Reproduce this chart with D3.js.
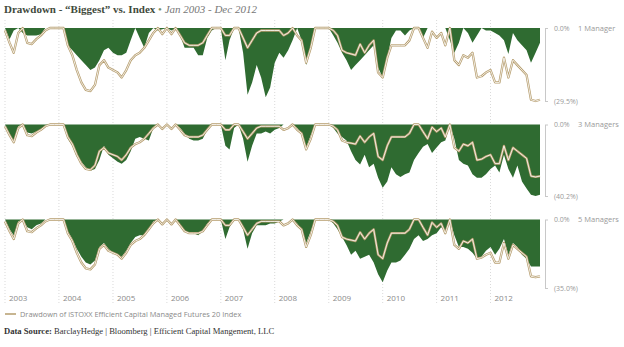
<!DOCTYPE html>
<meta charset="utf-8">
<style>
body { margin: 0; background: #fff; }
.tick line, .domain { stroke: #c8c8c8; }
.tick text { fill: #9a9a9a; font-family: "Open Sans", sans-serif; font-size: 7px; }
</style>
<body>
<script src="https://cdnjs.cloudflare.com/ajax/libs/d3/7.8.5/d3.min.js"></script>
<script>

// drawdowns in %, monthly Jan 2003 - Dec 2012
var indexDD = [
  -1, -6, -10, -2, 0, -6, -6.5, -4.5, -3, -1, 0, 0,
  0, 0, -7, -11, -17, -22, -25, -25.5, -23, -15, -13, -16,
  -17, -18, -20, -17, -13, -11, -10, -8, -5, -2, 0, -2.5,
  0, -2.5, 0, -3, -6, -7, -7, -7, -6, -3, 0, 0,
  0, -3, -3, 0, 0, -4, -8, -5, -2, -1, -1, -1,
  -1, -1, -3, -2, 0, -3, -5, -14, -8, 0, 0, 0,
  0, -1, -3, -9, -10, -10.5, -11, -6.5, -10, -7, -5, -18,
  -20, -12, -7, -7, -7, -7, -5, 0, 0, -4, -8, -1.5,
  -4, -2, -7, 0, -13, -15, -11, -12, -10, -20, -19.5, -18,
  -17, -22, -22, -12, -20, -13, -15, -17, -19, -29, -29.5, -29
];
var mgr1 = [
  0, -4.5, -1, 0, -2, -3, -3, -3, -2.5, 0, 0, 0,
  0, 0, -7, -9, -11, -13, -15, -17, -16, -13, -9, -8,
  -10, -11, -11, -10, -5, 0, -4, -8, -2, 0, -1, -0.5,
  0, -1, 0, -3, -8, -8, -8, -11, -11, -4, -1, 0,
  0, -13, -5, 0, 0, -10, -27, -22, -15, -20, -28, -24,
  -14, -10, -12, -9, -5, 0, -5, -15, -8, 0, 0, 0,
  0, -3, -6, -10, -13, -17, -15, -13, -11, -9, -7, -16,
  -20, -12, -4, -1, -1, -3, -1, 0, 0, -4, 0, 0,
  0, 0, 0, -5, -10, -6, 0, -2, -6, -3, 0, -1,
  -1, -2, -3, -5, -10.5, -2, -5, -7, -9, -14, -10, -6
];
var mgr3 = [
  0, -6, -9, -1, 0, -4.5, -5, -4, -3, -1, 0, 0,
  0, 0, -8, -12, -18, -21, -24, -26, -25, -20, -12, -17,
  -19, -21, -22, -20, -15, -8, -7, -8, -9, -2, 0, 0,
  0, 0, 0, -2, -5, -8, -9, -9, -8, -3, 0, 0,
  0, -12, -14, -2, 0, -8, -21, -12, -5, -5, -4, -5,
  -3, -2, 0, 0, 0, -2, -5, -13, -6, 0, 0, 0,
  0, -2, -5, -7, -9, -15, -20, -22.5, -17, -24, -22, -30,
  -35.5, -32, -24, -28, -29.5, -28, -27, -20, -16, -12.5, -11, -16,
  -13, -10, -9, 0, -8, -20, -22, -23, -28, -30, -30, -28,
  -25, -23, -27, -17, -25, -30, -23, -32, -36, -39.5, -40.2, -39.5
];
var mgr5 = [
  0, -5, -8, -1, 0, -4, -5, -3, -2, 0, 0, 0,
  0, 0, -6, -10, -15, -19, -22, -23, -21, -14, -12, -15,
  -17, -18, -19, -16, -12, -9, -8, -8, -5, -1, 0, 0,
  0, 0, 0, -3, -6, -7, -7, -8, -6, -2, 0, 0,
  0, -10, -4, 0, 0, -5, -15, -7, -3, -3, -3, -2,
  -2, -1, 0, 0, 0, -2, -5, -12, -6, 0, 0, 0,
  0, -2, -5, -9, -13, -18, -16, -20, -19, -18, -22, -28,
  -32, -26, -22, -22, -21, -18, -15, -10, -8, -11, -10, -8,
  -7, -4, -6, 0, -8, -14, -14, -15, -17, -20, -19, -16,
  -14, -18, -15, -10, -18, -12, -14, -18, -20, -24, -24, -24
];

var panelNames = ["1 Manager", "3 Managers", "5 Managers"];
var panelMins = [29.5, 40.2, 35.0];
var years = ["2003", "2004", "2005", "2006", "2007", "2008", "2009", "2010", "2011", "2012"];

var w = 624, h = 347;
var green = "#2f6b31", tan = "#b59c6c";
var panelTop = [28, 124.5, 219.5];
var panelBottom = [101, 196, 288];

var months = d3.range(indexDD.length).map(function(i) { return new Date(2003, i, 1); });

var svg = d3.select("body").append("svg")
  .attr("width", w)
  .attr("height", h);

var x = d3.scaleTime()
  .domain([months[0], months[months.length - 1]])
  .range([5, 540]);

// title
var title = svg.append("text")
  .attr("x", 4)
  .attr("y", 13)
  .style("font-family", "'Liberation Serif', serif")
  .style("font-size", "11px");
title.append("tspan").text("Drawdown - \u201cBiggest\u201d vs. Index").style("font-weight", "bold").attr("fill", "#3f4a3c");
title.append("tspan").text(" \u2022 ").attr("fill", "#7a8f6a");
title.append("tspan").text("Jan 2003 - Dec 2012").style("font-style", "italic").attr("fill", "#777");

// year gridlines
var yearDates = years.map(function(y) { return new Date(+y, 0, 1); });
svg.selectAll(".grid")
  .data(yearDates)
  .enter()
  .append("line")
  .attr("x1", function(d) { return x(d); })
  .attr("x2", function(d) { return x(d); })
  .attr("y1", 20)
  .attr("y2", 305)
  .attr("stroke", "#cfcfcf")
  .attr("stroke-width", 0.8)
  .attr("stroke-dasharray", "1,2");

svg.selectAll(".year")
  .data(years)
  .enter()
  .append("text")
  .attr("x", function(d, i) { return x(yearDates[i]) + 4; })
  .attr("y", 301)
  .attr("fill", "#8a8a8a")
  .style("font-family", "'Open Sans', sans-serif")
  .style("font-size", "8px")
  .text(function(d) { return d; });

var series = [mgr1, mgr3, mgr5];

series.forEach(function(vals, p) {
  var y = d3.scaleLinear()
    .domain([-panelMins[p], 0])
    .range([panelBottom[p], panelTop[p]]);

  var area = d3.area()
    .x(function(d, i) { return x(months[i]); })
    .y0(y(0))
    .y1(function(d) { return y(d); });

  var line = d3.line()
    .x(function(d, i) { return x(months[i]); })
    .y(function(d) { return y(d); });

  svg.append("path")
    .datum(vals)
    .attr("d", area)
    .attr("fill", green);

  svg.append("path")
    .datum(indexDD)
    .attr("d", line)
    .attr("fill", "none")
    .attr("stroke", tan)
    .attr("stroke-width", 2.3)
    .attr("stroke-linejoin", "round");

  svg.append("path")
    .datum(indexDD)
    .attr("d", line)
    .attr("fill", "none")
    .attr("stroke", "#fff")
    .attr("stroke-width", 0.8)
    .attr("stroke-linejoin", "round");

  var axis = d3.axisRight(y)
    .tickValues([0, -panelMins[p]])
    .tickSize(3)
    .tickSizeOuter(0)
    .tickPadding(6)
    .tickFormat(function(v) { return v === 0 ? "0.0%" : "(" + panelMins[p].toFixed(1) + "%)"; });

  svg.append("g")
    .attr("transform", "translate(545,0)")
    .call(axis);

  svg.append("text")
    .attr("x", 578)
    .attr("y", y(0) + 2.5)
    .attr("fill", "#9a9a9a")
    .style("font-family", "'Open Sans', sans-serif")
    .style("font-size", "7.5px")
    .text(panelNames[p]);
});

// legend
svg.append("line")
  .attr("x1", 5).attr("x2", 16)
  .attr("y1", 314).attr("y2", 314)
  .attr("stroke", tan)
  .attr("stroke-width", 1.5);

svg.append("text")
  .attr("x", 20)
  .attr("y", 317)
  .attr("fill", "#8a8a8a")
  .style("font-family", "'Open Sans', sans-serif")
  .style("font-size", "7.4px")
  .text("Drawdown of iSTOXX Efficient Capital Managed Futures 20 Index");

var src = svg.append("text")
  .attr("x", 4)
  .attr("y", 334)
  .attr("fill", "#333")
  .style("font-family", "'Liberation Serif', serif")
  .style("font-size", "8.6px");
src.append("tspan").text("Data Source: ").style("font-weight", "bold");
src.append("tspan").text("BarclayHedge | Bloomberg | Efficient Capital Mangement, LLC");

</script>
</body>
